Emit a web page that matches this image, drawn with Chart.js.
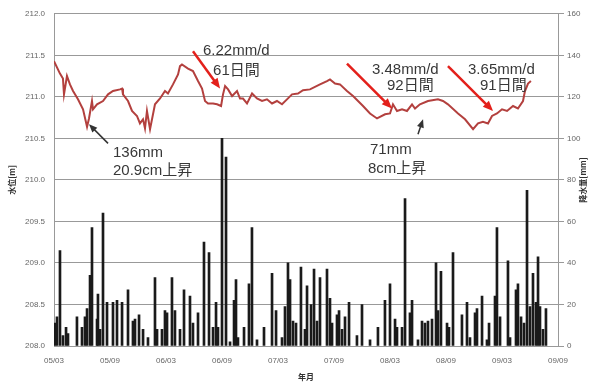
<!DOCTYPE html>
<html>
<head>
<meta charset="utf-8">
<script src="https://cdn.jsdelivr.net/npm/chart.js@4.4.1/dist/chart.umd.min.js"></script>
<style>
	html, body { margin: 0; padding: 0; background: #fff; }
	#wrap { width: 595px; height: 382px; }
</style>
</head>
<body>
<div id="wrap"><canvas id="levelChart" width="595" height="382"></canvas></div>
<script>
// x values are months counted from 2005/03
const tickLabels = ['05/03', '05/09', '06/03', '06/09', '07/03', '07/09', '08/03', '08/09', '09/03', '09/09'];

// water level [m]
const levelMonth = [0, 0.64, 0.96, 1.07, 1.39, 1.71, 2.04, 2.57, 3.11, 3.54, 3.75, 4.07, 4.18, 4.61, 5.25, 5.79, 6.32, 7.07, 7.29, 7.39, 7.93, 8.36, 8.89, 9.21, 9.54, 9.75, 9.96, 10.29, 10.82, 11.36, 11.89, 12.21, 12.75, 13.29, 13.5, 13.71, 14.36, 14.89, 15.43, 15.86, 16.18, 16.5, 17.04, 17.47, 17.9, 18.11, 18.33, 18.65, 19.08, 19.61, 19.93, 20.25, 20.68, 21.22, 21.75, 22.29, 22.82, 23.36, 23.89, 24.43, 24.96, 25.5, 26.14, 26.68, 27.43, 28.5, 29.25, 29.57, 30.11, 30.64, 31.39, 32.04, 33.11, 33.86, 34.61, 35.47, 36.0, 36.32, 36.75, 37.29, 37.82, 38.36, 38.68, 39.21, 40.07, 41.14, 41.68, 42.21, 43.29, 44.04, 44.9, 45.43, 45.96, 46.5, 46.93, 47.46, 48.0, 48.54, 49.18, 49.71, 50.25, 50.46, 50.79, 51.1];
const levelM = [211.43, 211.28, 211.22, 211.03, 211.25, 211.15, 211.07, 210.97, 210.85, 210.64, 210.74, 210.95, 210.85, 210.91, 210.95, 211.03, 211.07, 211.09, 211.10, 211.03, 210.95, 210.83, 210.77, 210.68, 210.73, 210.62, 210.83, 210.61, 210.91, 210.98, 211.07, 211.04, 211.15, 211.27, 211.37, 211.39, 211.34, 211.31, 211.19, 211.10, 210.95, 210.92, 210.92, 210.91, 210.89, 211.03, 211.13, 211.09, 211.01, 211.07, 210.98, 210.98, 210.92, 211.04, 210.98, 210.95, 210.97, 210.92, 210.95, 210.91, 210.97, 211.03, 211.04, 211.08, 211.09, 211.15, 211.19, 211.21, 211.16, 211.15, 211.07, 211.01, 210.89, 210.80, 210.74, 210.79, 210.80, 210.91, 210.83, 210.85, 210.83, 210.91, 210.86, 210.91, 210.95, 210.97, 210.95, 210.91, 210.80, 210.73, 210.61, 210.68, 210.70, 210.68, 210.77, 210.80, 210.85, 210.83, 210.89, 210.86, 210.95, 211.07, 211.16, 211.19];

// rainfall [mm]
const rainMonth = [0.11, 0.32, 0.64, 0.96, 1.29, 1.5, 2.46, 3.0, 3.32, 3.54, 3.86, 4.07, 4.61, 4.71, 4.93, 5.25, 5.68, 6.32, 6.75, 7.29, 7.93, 8.46, 8.68, 9.11, 9.54, 10.07, 10.82, 11.04, 11.57, 11.89, 12.11, 12.64, 12.96, 13.5, 13.93, 14.57, 14.89, 15.43, 16.07, 16.61, 17.04, 17.36, 17.57, 18.0, 18.43, 18.86, 19.29, 19.5, 19.71, 20.36, 20.89, 21.21, 21.75, 22.5, 23.36, 23.79, 24.43, 24.75, 25.07, 25.29, 25.61, 25.93, 26.46, 26.89, 27.11, 27.54, 27.86, 28.18, 28.5, 29.25, 29.57, 29.79, 30.32, 30.54, 30.86, 31.18, 31.61, 32.46, 33.0, 33.86, 34.71, 35.46, 36.0, 36.54, 36.75, 37.29, 37.61, 38.14, 38.36, 39.0, 39.43, 39.75, 40.07, 40.5, 40.93, 41.14, 41.46, 42.11, 42.32, 42.75, 43.71, 44.25, 44.57, 45.11, 45.32, 45.86, 46.39, 46.61, 47.25, 47.46, 47.79, 48.64, 48.86, 49.5, 49.71, 50.04, 50.36, 50.68, 51.0, 51.32, 51.64, 51.86, 52.07, 52.39, 52.71];
const rainMM = [11, 14, 46, 5, 9, 6, 14, 9, 14, 18, 34, 57, 13, 25, 8, 64, 21, 21, 22, 21, 27, 12, 13, 15, 8, 4, 33, 8, 8, 17, 16, 33, 17, 8, 27, 24, 11, 16, 50, 45, 9, 21, 9, 100, 91, 2, 22, 32, 4, 9, 30, 57, 3, 9, 35, 17, 4, 19, 40, 32, 12, 11, 38, 8, 29, 20, 37, 12, 33, 37, 23, 11, 15, 17, 8, 14, 21, 5, 20, 3, 9, 22, 30, 13, 9, 9, 71, 16, 22, 3, 12, 11, 12, 13, 40, 17, 36, 11, 9, 45, 15, 21, 4, 16, 18, 24, 3, 11, 24, 57, 14, 41, 4, 27, 30, 14, 11, 75, 19, 35, 21, 43, 19, 8, 18];

// annotation texts and arrows, in data units (month, level)
const noteLines = [
	{ text: '136mm', x: 6.32, y: 210.33 },
	{ text: '20.9cm上昇', x: 6.32, y: 210.11 },
	{ text: '6.22mm/d', x: 15.96, y: 211.55 },
	{ text: '61日間', x: 17.04, y: 211.31 },
	{ text: '3.48mm/d', x: 34.07, y: 211.33 },
	{ text: '92日間', x: 35.68, y: 211.13 },
	{ text: '3.65mm/d', x: 44.36, y: 211.33 },
	{ text: '91日間', x: 45.64, y: 211.13 },
	{ text: '71mm', x: 33.86, y: 210.36 },
	{ text: '8cm上昇', x: 33.64, y: 210.13 }
];
const arrows = [
	{ from: [5.79, 210.44], to: [3.75, 210.67], color: '#333333', width: 1.5 },
	{ from: [14.89, 211.55], to: [17.79, 211.10], color: '#e3201b', width: 2.5 },
	{ from: [31.39, 211.40], to: [36.21, 210.86], color: '#e3201b', width: 2.5 },
	{ from: [42.21, 211.37], to: [47.04, 210.83], color: '#e3201b', width: 2.5 },
	{ from: [39.0, 210.55], to: [39.54, 210.73], color: '#333333', width: 1.5 }
];

const tickFont = { family: 'Liberation Sans, Arial, sans-serif', size: 8 };
const noteFont = '15px "Liberation Sans", "Noto Sans CJK JP", sans-serif';

const notesPlugin = {
	id: 'notes',
	afterDraw(chart) {
		const { ctx, scales } = chart;
		const sx = scales.x, sy = scales.y;
		ctx.save();
		arrows.forEach(a => {
			const x1 = sx.getPixelForValue(a.from[0]), y1 = sy.getPixelForValue(a.from[1]);
			const x2 = sx.getPixelForValue(a.to[0]), y2 = sy.getPixelForValue(a.to[1]);
			const ang = Math.atan2(y2 - y1, x2 - x1);
			const head = a.width > 2 ? 11 : 9;
			ctx.strokeStyle = a.color;
			ctx.fillStyle = a.color;
			ctx.lineWidth = a.width;
			ctx.beginPath();
			ctx.moveTo(x1, y1);
			ctx.lineTo(x2 - Math.cos(ang) * head * 0.8, y2 - Math.sin(ang) * head * 0.8);
			ctx.stroke();
			ctx.beginPath();
			ctx.moveTo(x2, y2);
			ctx.lineTo(x2 - head * Math.cos(ang - 0.4), y2 - head * Math.sin(ang - 0.4));
			ctx.lineTo(x2 - head * Math.cos(ang + 0.4), y2 - head * Math.sin(ang + 0.4));
			ctx.closePath();
			ctx.fill();
		});
		ctx.font = noteFont;
		ctx.fillStyle = '#383838';
		ctx.textBaseline = 'middle';
		ctx.textAlign = 'left';
		noteLines.forEach(n => {
			ctx.fillText(n.text, sx.getPixelForValue(n.x), sy.getPixelForValue(n.y));
		});

		// right axis title reads bottom to top
		ctx.font = 'bold 8px "Noto Sans CJK JP", sans-serif';
		ctx.fillStyle = '#333333';
		ctx.textAlign = 'center';
		ctx.translate(583, (chart.chartArea.top + chart.chartArea.bottom) / 2);
		ctx.rotate(-Math.PI / 2);
		ctx.fillText('降水量[mm]', 0, 0);
		ctx.restore();
	}
};

new Chart(document.getElementById('levelChart'), {
	data: {
		datasets: [
			{
				type: 'line',
				label: '水位',
				data: levelMonth.map((m, i) => ({ x: m, y: levelM[i] })),
				yAxisID: 'y',
				borderColor: '#b3403e',
				borderWidth: 2,
				pointRadius: 0,
				tension: 0,
				order: 0
			},
			{
				type: 'bar',
				label: '降水量',
				data: rainMonth.map((m, i) => ({ x: m, y: rainMM[i] })),
				yAxisID: 'y1',
				backgroundColor: '#1a1a1a',
				barThickness: 2,
				grouped: false,
				order: 1
			}
		]
	},
	options: {
		responsive: false,
		animation: false,
		layout: { padding: { top: 8, right: 0, left: 0, bottom: 0 } },
		plugins: { legend: { display: false }, tooltip: { enabled: false } },
		scales: {
			x: {
				type: 'linear',
				min: 0,
				max: 54,
				offset: false,
				afterFit: s => { s.height = 36; },
				grid: { display: false },
				border: { color: '#999999' },
				ticks: {
					stepSize: 6,
					autoSkip: false,
					maxRotation: 0,
					font: tickFont,
					color: '#666666',
					padding: 2,
					callback: v => tickLabels[v / 6]
				},
				title: {
					display: true,
					text: '年月',
					font: { family: '"Noto Sans CJK JP", sans-serif', size: 8, weight: 'bold' },
					color: '#333333',
					padding: { top: 4, bottom: 0 }
				}
			},
			y: {
				position: 'left',
				min: 208,
				max: 212,
				afterFit: s => { s.width = 54; },
				grid: { color: '#999999', lineWidth: 1, drawTicks: false },
				border: { color: '#999999' },
				ticks: {
					stepSize: 0.5,
					font: tickFont,
					color: '#666666',
					padding: 9,
					callback: v => v.toFixed(1)
				},
				title: {
					display: true,
					text: '水位[m]',
					font: { family: '"Noto Sans CJK JP", sans-serif', size: 8, weight: 'bold' },
					color: '#333333',
					padding: { top: 7, bottom: 0 }
				}
			},
			y1: {
				position: 'right',
				min: 0,
				max: 160,
				afterFit: s => { s.width = 37; },
				grid: { drawOnChartArea: false, color: '#999999', tickLength: 6 },
				border: { color: '#999999' },
				ticks: {
					stepSize: 20,
					font: tickFont,
					color: '#666666',
					padding: 3
				}
			}
		}
	},
	plugins: [notesPlugin]
});
</script>
</body>
</html>
